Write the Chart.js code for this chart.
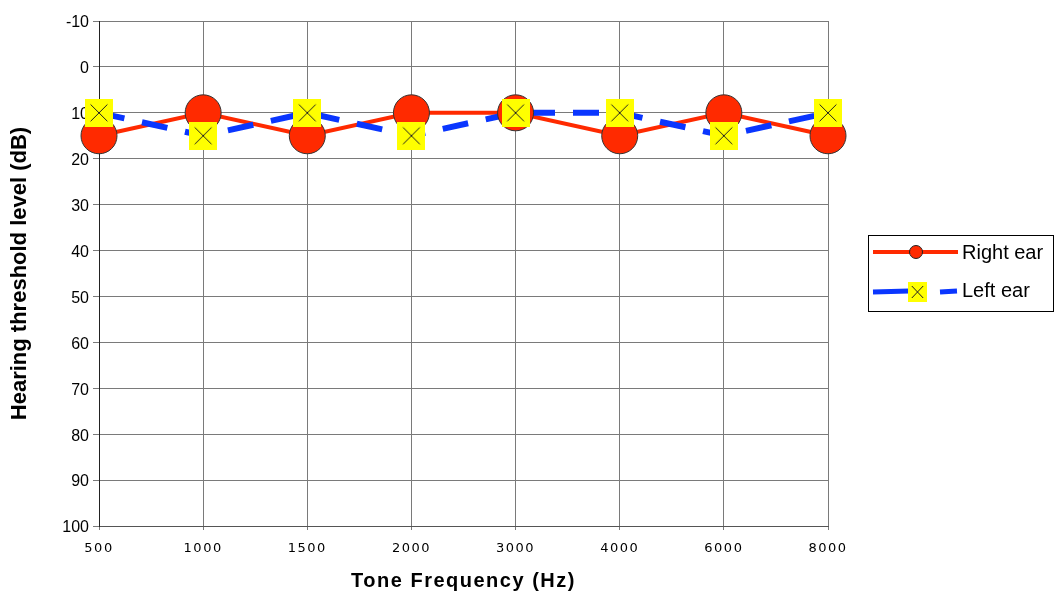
<!DOCTYPE html>
<html>
<head>
<meta charset="utf-8">
<script src="https://cdn.jsdelivr.net/npm/chart.js@4/dist/chart.umd.min.js"></script>
<style>
  html, body { margin: 0; padding: 0; background: #fff; }
  #wrap { width: 1054px; height: 593px; }
</style>
</head>
<body>
<div id="wrap"><canvas id="audiogram" width="1054" height="593"></canvas></div>
<script>
const frequencies = ['500', '1000', '1500', '2000', '3000', '4000', '6000', '8000'];
const rightEar = [15, 10, 15, 10, 10, 15, 10, 15];
const leftEar = [10, 15, 10, 15, 10, 10, 15, 10];
const yMin = -10;
const yMax = 100;
const yStep = 10;

const red = '#FF2A00';
const blue = '#0A36FF';
const yellow = '#FFFF00';

// category axis whose texts are drawn slightly letter-spaced
class SpacedCategoryScale extends Chart.CategoryScale {
    draw(area) {
        const c = this.ctx;
        c.save();
        c.letterSpacing = '1.5px';
        super.draw(area);
        c.restore();
    }
}
SpacedCategoryScale.id = 'spacedCategory';
SpacedCategoryScale.defaults = Chart.CategoryScale.defaults;
Chart.register(SpacedCategoryScale);

// yellow square with a thin X, used as point style for the left ear
function crossBox(w, h) {
    const c = document.createElement('canvas');
    c.width = w;
    c.height = h;
    const g = c.getContext('2d');
    g.fillStyle = yellow;
    g.fillRect(0, 0, w, h);
    g.strokeStyle = '#222';
    g.lineWidth = 1;
    const mx = w * 0.2, my = h * 0.2;
    g.beginPath();
    g.moveTo(mx, my); g.lineTo(w - mx, h - my);
    g.moveTo(w - mx, my); g.lineTo(mx, h - my);
    g.stroke();
    return c;
}

const bigBox = crossBox(28, 28);
const smallBox = crossBox(19, 20);

// legend drawn in a framed box right of the plot
const boxLegend = {
    id: 'boxLegend',
    afterDraw(chart) {
        const c = chart.ctx;
        c.save();
        c.strokeStyle = '#000';
        c.lineWidth = 1;
        c.strokeRect(868.5, 235.5, 185, 76);

        // Right ear
        c.strokeStyle = red;
        c.lineWidth = 4;
        c.beginPath();
        c.moveTo(873, 252); c.lineTo(958, 252);
        c.stroke();
        c.fillStyle = red;
        c.strokeStyle = '#222';
        c.lineWidth = 1;
        c.beginPath();
        c.arc(916, 252, 6.5, 0, Math.PI * 2);
        c.fill();
        c.stroke();

        // Left ear
        c.strokeStyle = blue;
        c.lineWidth = 5;
        c.beginPath();
        c.moveTo(873, 292); c.lineTo(909, 291);
        c.moveTo(940, 292); c.lineTo(957, 291);
        c.stroke();
        c.drawImage(smallBox, 908, 282);

        c.fillStyle = '#000';
        c.font = '20px "Liberation Sans", Arial, sans-serif';
        c.textBaseline = 'middle';
        c.fillText('Right ear', 962, 253);
        c.fillText('Left ear', 962, 291);
        c.restore();
    }
};

const ctx = document.getElementById('audiogram').getContext('2d');

// lines first, markers on top (higher order is drawn underneath)
new Chart(ctx, {
    type: 'line',
    data: {
        labels: frequencies,
        datasets: [{
            label: 'Right ear',
            data: rightEar,
            borderColor: red,
            borderWidth: 4,
            pointRadius: 0,
            tension: 0,
            fill: false,
            order: 4
        }, {
            label: 'Left ear',
            data: leftEar,
            borderColor: blue,
            borderWidth: 6,
            borderDash: [26, 18],
            pointRadius: 0,
            tension: 0,
            fill: false,
            order: 3
        }, {
            label: 'Right ear markers',
            data: rightEar,
            showLine: false,
            pointStyle: 'circle',
            pointRadius: 18,
            pointBorderColor: '#333',
            pointBorderWidth: 1,
            pointBackgroundColor: red,
            order: 2
        }, {
            label: 'Left ear markers',
            data: leftEar,
            showLine: false,
            pointStyle: bigBox,
            pointRadius: 14,
            order: 1
        }]
    },
    options: {
        responsive: false,
        animation: false,
        layout: {
            padding: { top: 21, right: 226, left: 0, bottom: 0 }
        },
        plugins: {
            legend: { display: false },
            tooltip: { enabled: false }
        },
        scales: {
            x: {
                type: 'spacedCategory',
                offset: false,
                afterFit(scale) { scale.height = 67; },
                grid: {
                    color: '#7a7a7a',
                    lineWidth: 1,
                    tickLength: 4,
                    drawTicks: true
                },
                border: { color: '#555', width: 1 },
                ticks: {
                    autoSkip: false,
                    maxRotation: 0,
                    color: '#000',
                    padding: 11,
                    font: { family: '"DejaVu Sans", Verdana, sans-serif', size: 13 }
                },
                title: {
                    display: true,
                    text: 'Tone Frequency (Hz)',
                    color: '#000',
                    font: { family: '"Liberation Sans", Arial, sans-serif', size: 20, weight: 'bold' },
                    padding: { top: 0, bottom: 0 }
                }
            },
            y: {
                reverse: true,
                min: yMin,
                max: yMax,
                afterFit(scale) { scale.width = 99; },
                grid: {
                    color: '#7a7a7a',
                    lineWidth: 1,
                    tickLength: 6,
                    drawTicks: true
                },
                border: { color: '#222', width: 1 },
                ticks: {
                    stepSize: yStep,
                    color: '#000',
                    padding: 4,
                    labelOffset: 2,
                    font: { family: '"Liberation Sans", Arial, sans-serif', size: 16 }
                },
                title: {
                    display: true,
                    text: 'Hearing threshold level (dB)',
                    color: '#000',
                    font: { family: '"Liberation Sans", Arial, sans-serif', size: 22, weight: 'bold' },
                    padding: { top: 7, bottom: 0 }
                }
            }
        }
    },
    plugins: [boxLegend]
});
</script>
</body>
</html>
